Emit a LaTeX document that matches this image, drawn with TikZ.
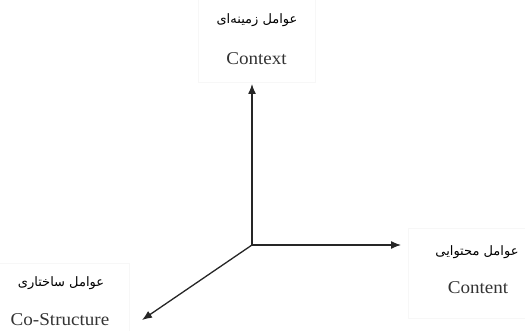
\documentclass[tikz,border=0pt]{standalone}
\usepackage{fontspec}
\setmainfont{Liberation Serif}[FakeStretch=1.06]
\newfontfamily\arabicfont[Script=Arabic]{DejaVu Sans}
\TeXXeTstate=1
\usetikzlibrary{arrows.meta}
\begin{document}
\begin{tikzpicture}[x=1pt,y=-1pt,
  axis/.style={draw=black!85,line width=1.3pt,-{Latex[length=10pt,width=8pt]}},
  lat/.style={font=\fontsize{18}{20}\selectfont,inner sep=0pt,text=black!80},
  fa/.style={font=\arabicfont\fontsize{13}{15}\selectfont,inner sep=0pt},
  frame/.style={draw=black!3,line width=0.5pt}]
\useasboundingbox (0,0) rectangle (525,331);
\draw[frame] (198,-1) rectangle (315,82);
\draw[frame] (408,228) rectangle (526,318);
\draw[frame] (-1,263) rectangle (129,332);
\coordinate (o) at (252,245);
\coordinate (up) at (252,84);
\coordinate (rt) at (401,245);
\coordinate (dl) at (142,320);
\draw[axis] (o) -- (up);
\draw[axis] (o) -- (rt);
\draw[axis] (o) -- (dl);
\node[fa] (fa1) at (257,20) {\beginR عوامل زمینه‌ای\endR};
\node[lat] (en1) at (256.5,59) {Context};
\node[fa] (fa2) at (477,252) {\beginR عوامل محتوایی\endR};
\node[lat] (en2) at (478,288) {Content};
\node[fa] (fa3) at (61,283) {\beginR عوامل ساختاری\endR};
\node[lat] (en3) at (60,320) {Co-Structure};
\end{tikzpicture}
\end{document}
